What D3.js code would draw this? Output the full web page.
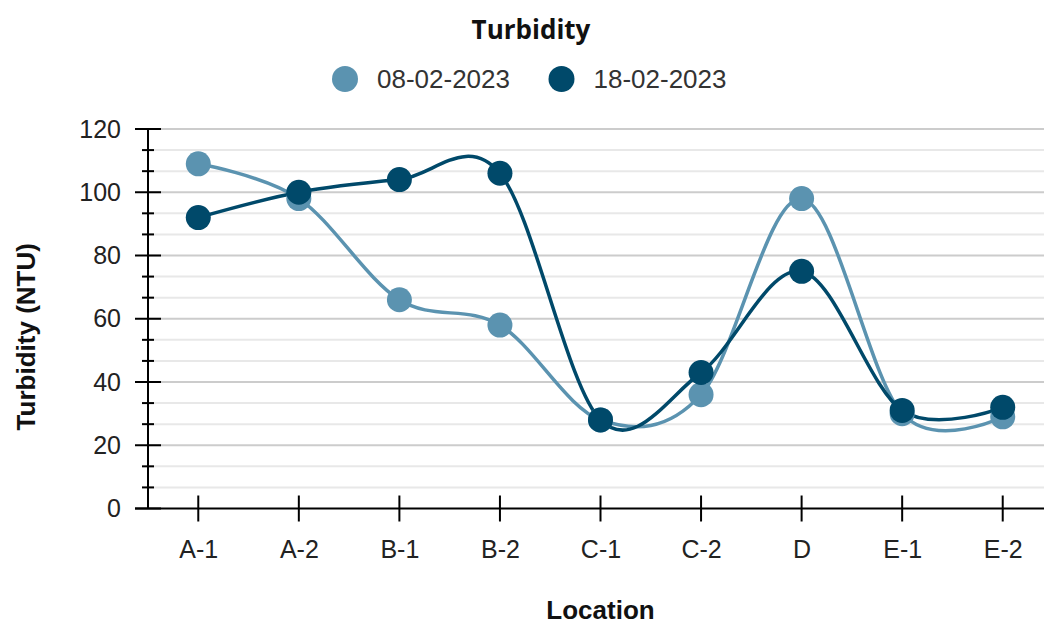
<!DOCTYPE html>
<html>
<head>
<meta charset="utf-8">
<script src="https://cdn.jsdelivr.net/npm/d3@7"></script>
<style>
  html, body { margin: 0; padding: 0; background: #fff; }
  svg { display: block; }
</style>
</head>
<body>
<svg id="chart" width="1044" height="626"></svg>
<script>
// Turbidity readings per sampling location on two dates
const locations = ["A-1", "A-2", "B-1", "B-2", "C-1", "C-2", "D", "E-1", "E-2"];
const feb08 = [109, 98, 66, 58, 28, 36, 98, 30, 29];
const feb18 = [92, 100, 104, 106, 28, 43, 75, 31, 32];
const seriesNames = ["08-02-2023", "18-02-2023"];
const yTicks = [0, 20, 40, 60, 80, 100, 120];

const colors = ["#5b93b0", "#00496a"];
const series = [feb08, feb18];

const svg = d3.select("#chart");
const W = 1044, H = 626;
const plotLeft = 148, plotRight = 1053, plotTop = 129, plotBottom = 508.5;
const sans = "Liberation Sans, Arial, sans-serif";

const x = d3.scalePoint().domain(locations).range([plotLeft, plotRight]).padding(0.5);
const y = d3.scaleLinear().domain([0, 120]).range([plotBottom, plotTop]);

// minor divisions: each 20-unit step split into thirds
const minorTicks = [];
for (let i = 0; i < yTicks.length - 1; i++) {
  for (let k = 1; k < 3; k++) minorTicks.push(yTicks[i] + (yTicks[i + 1] - yTicks[i]) * k / 3);
}

// grid
const grid = svg.append("g");
grid.selectAll("line.minor").data(minorTicks).join("line")
  .attr("x1", plotLeft).attr("x2", W)
  .attr("y1", d => y(d)).attr("y2", d => y(d))
  .attr("stroke", "#e8e8e8").attr("stroke-width", 2);
grid.selectAll("line.major").data(yTicks.slice(1)).join("line")
  .attr("x1", plotLeft).attr("x2", W)
  .attr("y1", d => y(d)).attr("y2", d => y(d))
  .attr("stroke", "#cccccc").attr("stroke-width", 2);

// y axis
const yAxis = svg.append("g").attr("transform", `translate(${plotLeft},0)`)
  .call(d3.axisLeft(y).tickValues(yTicks).tickSize(0).tickPadding(27));
yAxis.select(".domain").remove();
yAxis.selectAll("text").attr("font-family", sans)
  .attr("font-size", 25).attr("fill", "#222");
svg.append("line").attr("x1", plotLeft).attr("x2", plotLeft).attr("y1", plotTop).attr("y2", plotBottom)
  .attr("stroke", "#000").attr("stroke-width", 2);
svg.selectAll("line.ymaj").data(yTicks).join("line")
  .attr("x1", plotLeft - 13).attr("x2", plotLeft + 13)
  .attr("y1", d => y(d)).attr("y2", d => y(d))
  .attr("stroke", "#000").attr("stroke-width", 2);
svg.selectAll("line.ymin").data(minorTicks).join("line")
  .attr("x1", plotLeft - 6).attr("x2", plotLeft + 6)
  .attr("y1", d => y(d)).attr("y2", d => y(d))
  .attr("stroke", "#000").attr("stroke-width", 2);

// x axis
const xAxis = svg.append("g").attr("transform", `translate(0,${plotBottom})`)
  .call(d3.axisBottom(x).tickSize(0).tickPadding(32));
xAxis.select(".domain").remove();
xAxis.selectAll("text").attr("font-family", sans)
  .attr("font-size", 25).attr("fill", "#222");
svg.append("line").attr("x1", plotLeft - 13).attr("x2", W).attr("y1", plotBottom).attr("y2", plotBottom)
  .attr("stroke", "#000").attr("stroke-width", 2);
svg.selectAll("line.xt").data(locations).join("line")
  .attr("x1", d => x(d)).attr("x2", d => x(d))
  .attr("y1", plotBottom - 13).attr("y2", plotBottom + 13)
  .attr("stroke", "#000").attr("stroke-width", 2);

// lines and markers
const line = d3.line()
  .x((d, i) => x(locations[i]))
  .y(d => y(d))
  .curve(d3.curveCardinal.tension(0));

series.forEach((vals, s) => {
  svg.append("path").datum(vals)
    .attr("d", line)
    .attr("fill", "none")
    .attr("stroke", colors[s])
    .attr("stroke-width", 3.5);
});
series.forEach((vals, s) => {
  svg.append("g").selectAll("circle").data(vals).join("circle")
    .attr("cx", (d, i) => x(locations[i]))
    .attr("cy", d => y(d))
    .attr("r", 12.5)
    .attr("fill", colors[s]);
});

// title
svg.append("text").attr("x", 531).attr("y", 39)
  .attr("text-anchor", "middle")
  .attr("font-family", "Open Sans, sans-serif").attr("font-weight", "bold")
  .attr("font-size", 26).attr("fill", "#111")
  .text("Turbidity");

// legend
const legendX = [345, 561.5];
seriesNames.forEach((name, s) => {
  svg.append("circle").attr("cx", legendX[s]).attr("cy", 79).attr("r", 13).attr("fill", colors[s]);
  svg.append("text").attr("x", legendX[s] + 32).attr("y", 79)
    .attr("dominant-baseline", "central")
    .attr("font-family", sans)
    .attr("font-size", 26).attr("fill", "#333")
    .text(name);
});

// axis titles
svg.append("text").attr("x", (plotLeft + plotRight) / 2).attr("y", 619)
  .attr("text-anchor", "middle")
  .attr("font-family", sans).attr("font-weight", "bold")
  .attr("font-size", 26).attr("fill", "#111")
  .text("Location");
svg.append("text")
  .attr("transform", `translate(35, ${(plotTop + plotBottom) / 2 + 18}) rotate(-90)`)
  .attr("text-anchor", "middle")
  .attr("font-family", sans).attr("font-weight", "bold")
  .attr("font-size", 26).attr("fill", "#111")
  .text("Turbidity (NTU)");
</script>
</body>
</html>
